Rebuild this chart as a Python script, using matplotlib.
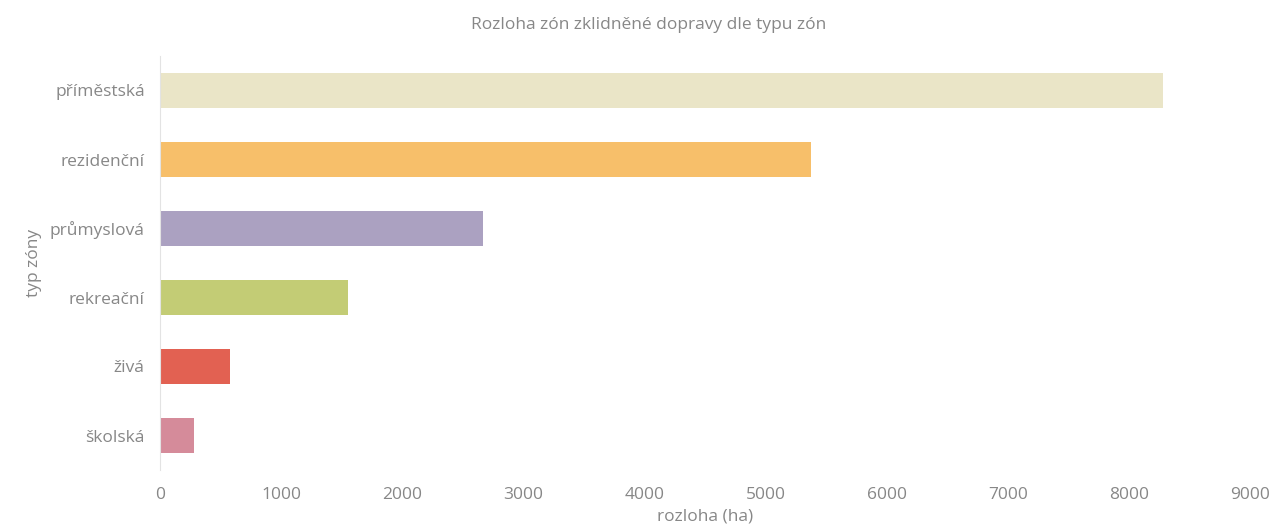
import matplotlib.pyplot as plt

# Zone areas (ha) by zone type
zones = ['příměstská', 'rezidenční', 'průmyslová', 'rekreační', 'živá', 'školská']
areas = [8280, 5375, 2667, 1553, 578, 282]
colors = ['#EAE5C7', '#F7BF6A', '#ABA1C1', '#C3CC75', '#E26152', '#D58B9A']
xticks = [0, 1000, 2000, 3000, 4000, 5000, 6000, 7000, 8000, 9000]

plt.rcParams['font.family'] = ['Open Sans', 'DejaVu Sans']
grey = '#878787'

fig = plt.figure(figsize=(12.74, 5.26), dpi=100)
ax = fig.add_axes([160 / 1274, 56 / 526, 1090 / 1274, 414 / 526])

ypos = list(range(len(zones)))
ax.barh(ypos, areas, height=0.5, color=colors)
ax.set_ylim(len(zones) - 0.5, -0.5)
ax.set_xlim(0, 9000)
ax.set_yticks(ypos)
ax.set_yticklabels(zones)
ax.set_xticks(xticks)
ax.set_xticklabels([str(t) for t in xticks])

for side in ['top', 'right', 'bottom']:
    ax.spines[side].set_visible(False)
ax.spines['left'].set_color('#e3e3e3')
ax.tick_params(axis='both', length=0, labelsize=12.5, labelcolor=grey)
ax.tick_params(axis='x', pad=12)
ax.tick_params(axis='y', pad=11)

ax.set_xlabel('rozloha (ha)', fontsize=12.5, color=grey, labelpad=4)
ax.set_ylabel('typ zóny', fontsize=12.5, color=grey, labelpad=6)
fig.text(649 / 1274, 1 - 25 / 526, 'Rozloha zón zklidněné dopravy dle typu zón',
         ha='center', va='center', fontsize=12.5, color=grey)

fig.savefig('out.png', dpi=100)
